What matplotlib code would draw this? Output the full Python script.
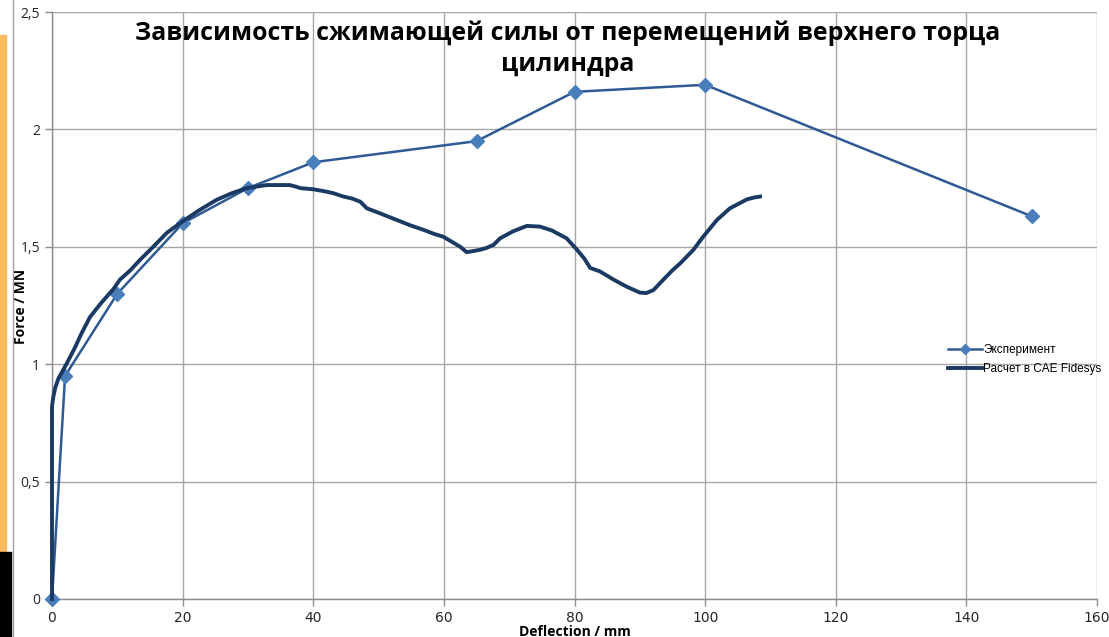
import matplotlib
matplotlib.use("Agg")
import matplotlib.pyplot as plt
from matplotlib.patches import Rectangle
from matplotlib.lines import Line2D

# Experimental measurements: deflection (mm) vs force (MN)
exp_x = [0, 2, 10, 20, 30, 40, 65, 80, 100, 150]
exp_y = [0, 0.95, 1.30, 1.60, 1.75, 1.86, 1.95, 2.16, 2.19, 1.63]

# CAE Fidesys simulation curve
sim_x = [0, 0, 0.2, 0.5, 1.0, 2.2, 3.5, 4.5, 5.8, 7.5, 9.4, 10.4, 12, 13.5,
         15.5, 17.6, 20.1, 22.5, 25.2, 27.5, 29.8, 32.9, 36.4, 37.5, 38.0,
         40, 42, 43.1, 44.5, 46, 47.2, 48.2, 50, 52.8, 55, 56.9, 58.5, 59.9,
         61, 62.5, 63.5, 65.5, 66.5, 67.6, 68.6, 70.6, 72.7, 74.7, 76.5, 78.8,
         80.3, 81.5, 82.4, 83.9, 86, 88, 90, 91, 92.1, 93.6, 95, 96.2, 98.2,
         99.7, 101.8, 103.8, 106.4, 107.5, 108.4]
sim_y = [0, 0.82, 0.86, 0.90, 0.94, 1.00, 1.07, 1.13, 1.20, 1.26, 1.32, 1.36,
         1.40, 1.445, 1.50, 1.56, 1.61, 1.655, 1.70, 1.728, 1.75, 1.763, 1.763,
         1.755, 1.75, 1.745, 1.735, 1.728, 1.715, 1.705, 1.692, 1.664, 1.645,
         1.614, 1.59, 1.572, 1.555, 1.543, 1.525, 1.50, 1.477, 1.487, 1.495,
         1.508, 1.536, 1.566, 1.589, 1.586, 1.57, 1.536, 1.49, 1.45, 1.41,
         1.395, 1.36, 1.33, 1.305, 1.303, 1.316, 1.36, 1.40, 1.43, 1.487,
         1.543, 1.614, 1.664, 1.702, 1.71, 1.714]

x_ticks = [0, 20, 40, 60, 80, 100, 120, 140, 160]
y_ticks = [0, 0.5, 1.0, 1.5, 2.0, 2.5]
y_tick_labels = ["0", "0,5", "1", "1,5", "2", "2,5"]

title = "Зависимость сжимающей силы от перемещений верхнего торца\nцилиндра"
x_label = "Deflection / mm"
y_label = "Force / MN"
exp_label = "Эксперимент"
sim_label = "Расчет в CAE Fidesys"

W, H = 1109, 637
fig = plt.figure(figsize=(W / 100, H / 100), dpi=100)
ax = fig.add_axes([52 / W, 1 - 599 / H, (1097 - 52) / W, (599 - 12) / H])

grid_c = "#A6A6A6"
ax.set_xlim(0, 160)
ax.set_ylim(0, 2.5)
ax.set_xticks(x_ticks)
ax.set_yticks(y_ticks)
ax.set_yticklabels(y_tick_labels)
ax.grid(True, color=grid_c, linewidth=1.0)
ax.set_axisbelow(True)
for s in ["top", "right"]:
    ax.spines[s].set_visible(False)
for s in ["left", "bottom"]:
    ax.spines[s].set_color("#8C8C8C")
    ax.spines[s].set_linewidth(1.0)
ax.tick_params(axis="both", colors="#8C8C8C", length=5, width=1,
               labelcolor="#262626", labelsize=10)
for lab in ax.get_xticklabels():
    lab.set_family("Liberation Sans Narrow")
for lab in ax.get_yticklabels():
    lab.set_family("Open Sans")

exp_line_c = "#2E5A94"
exp_marker_c = "#4A7EBB"
sim_c = "#1B3A63"

ax.plot(exp_x, exp_y, color=exp_line_c, linewidth=1.8, marker="D",
        markersize=7, markerfacecolor=exp_marker_c,
        markeredgecolor=exp_marker_c, zorder=3, clip_on=False)
ax.plot(sim_x, sim_y, color=sim_c, linewidth=2.8, solid_joinstyle="round",
        zorder=4, clip_on=False)

ax.set_xlabel(x_label, fontsize=10, fontweight="bold", family="Open Sans",
              labelpad=0)
ax.set_ylabel(y_label, fontsize=10, fontweight="bold", family="Open Sans")
ax.yaxis.set_label_coords(28 / W, 1 - 306 / H, transform=fig.transFigure)

fig.text(568 / W, 1 - 49 / H, title, ha="center", va="center",
         fontsize=17.9, fontweight="bold", family="Open Sans",
         linespacing=1.3, color="#000000")

handles = [
    Line2D([], [], color=exp_line_c, linewidth=1.8, marker="D", markersize=5,
           markerfacecolor=exp_marker_c, markeredgecolor=exp_marker_c),
    Line2D([], [], color=sim_c, linewidth=2.8),
]
leg = fig.legend(handles, [exp_label, sim_label], loc="upper left",
                 bbox_to_anchor=(942 / W, 1 - 338 / H), frameon=False,
                 borderpad=0, handlelength=2.9, handletextpad=0.1,
                 labelspacing=0.6, prop={"family": "Liberation Sans", "size": 8.5})

# Decorative strips along the left edge
fig.patches.append(Rectangle((0, 1 - 552 / H), 6 / W, (552 - 35) / H,
                             transform=fig.transFigure, color="#FBBA5E",
                             zorder=0))
fig.patches.append(Rectangle((0, 0), 11 / W, (637 - 552) / H,
                             transform=fig.transFigure, color="#000000",
                             zorder=0))
fig.lines.append(Line2D([12.5 / W, 12.5 / W], [0, 1], transform=fig.transFigure,
                        color="#A0A0A0", linewidth=1.0))

fig.savefig("out.png", dpi=100)
